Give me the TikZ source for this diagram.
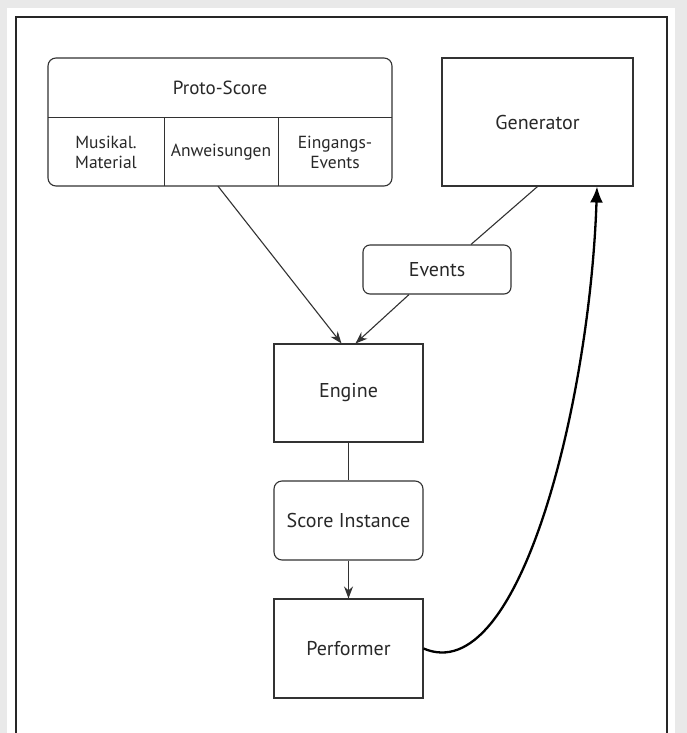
\documentclass[tikz,border=0pt]{standalone}
\usepackage{fontspec}
\setmainfont{PT Sans}
\usepackage{tikz}
\usetikzlibrary{arrows.meta,positioning,calc}
\definecolor{bgGrey}{RGB}{233,233,233}
\definecolor{lnGrey}{RGB}{50,50,50}
\definecolor{txGrey}{RGB}{40,40,40}
\tikzset{
  box/.style={draw=lnGrey, line width=1.1pt, minimum width=149pt,
              align=center, font=\fontsize{20}{22}\selectfont, text=txGrey, inner sep=0pt},
  rbox/.style={box, rounded corners=8pt},
  cell/.style={align=center, font=\fontsize{17.5}{20}\selectfont, text=txGrey,
               minimum height=68pt, inner sep=0pt},
  ln/.style={draw=lnGrey, line width=1.1pt},
  ar/.style={ln, -{Stealth[length=12pt,width=9pt]}},
  arb/.style={draw=black, line width=2.3pt, -{Latex[length=16pt,width=13pt]}},
}

\begin{document}
\begin{tikzpicture}[x=1pt, y=-1pt]
\useasboundingbox (0,0) rectangle (687,733);
\fill[bgGrey] (0,0) rectangle (687,733);
\fill[white] (7,8) rectangle (675,733);
\draw[black!85, line width=2pt] (16,740) -- (16,17) -- (667,17) -- (667,740);

% proto-score with its three parts
\node[rbox, minimum width=344pt, minimum height=128pt] (proto) at (220,122) {};
\node[cell, minimum width=344pt, minimum height=60pt, font=\fontsize{19}{22}\selectfont] (head) at (220,88) {Proto-Score};
\node[cell, minimum width=116pt] (mat) at (106,152) {Musikal.\\Material};
\node[cell, minimum width=114pt] (anw) at (221,152) {Anweisungen};
\node[cell, minimum width=114pt] (ein) at (335,152) {Eingangs-\\Events};
\draw[ln] (mat.north west) -- (ein.north east);
\draw[ln] (mat.north east) -- (mat.south east);
\draw[ln] (anw.north east) -- (anw.south east);

\node[box, minimum width=191pt, minimum height=128pt] (gen) at (537.5,122) {Generator};
\node[rbox, minimum width=148pt, minimum height=49pt, rounded corners=7pt] (events) at (437,269.5) {Events};
\node[box, minimum height=98pt] (engine) at (348.5,393) {Engine};
\node[rbox, minimum height=79pt] (inst) at (348.5,520.5) {Score Instance};
\node[box, minimum height=99pt] (perf) at (348.5,648.5) {Performer};

\draw[ar] ([xshift=-3pt]anw.south) -- ([xshift=-7pt]engine.north);
\draw[ln] (gen.south) -- ([xshift=34pt]events.north);
\draw[ar] ([xshift=-28pt]events.south) -- ([xshift=7pt]engine.north);
\draw[ln] (engine) -- (inst);
\draw[ar] (inst) -- (perf);

% feedback to the generator
\draw[arb] (perf.east) .. controls (520,690) and (590,400) .. ([xshift=59.5pt]gen.south);
\end{tikzpicture}
\end{document}
